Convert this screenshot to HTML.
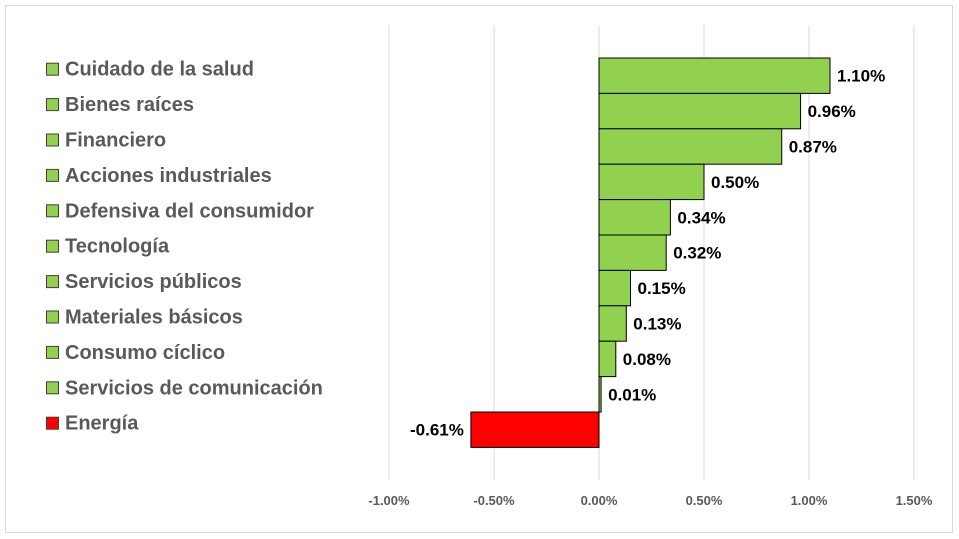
<!DOCTYPE html>
<html><head><meta charset="utf-8"><style>
body{margin:0;background:#fff;font-family:"Liberation Sans",sans-serif}
svg{display:block}
</style></head><body>
<svg width="959" height="539">
<rect x="5.5" y="5.5" width="947" height="527" fill="#fff" stroke="#d9d9d9"/>
<g id="grid"></g><g id="bars"></g><g id="labels"></g><g id="legend"></g><g id="ticks"></g>
</svg>
<script>
const categories=["Cuidado de la salud","Bienes raíces","Financiero","Acciones industriales","Defensiva del consumidor","Tecnología","Servicios públicos","Materiales básicos","Consumo cíclico","Servicios de comunicación","Energía"];
const values=[1.10,0.96,0.87,0.50,0.34,0.32,0.15,0.13,0.08,0.01,-0.61];
const tickValues=[-1.0,-0.5,0,0.5,1.0,1.5];
const tickLabels=["-1.00%","-0.50%","0.00%","0.50%","1.00%","1.50%"];
const NS="http://www.w3.org/2000/svg";
const x=v=>599+v*210;
const bandTop=i=>58+i*35.4;
const bandH=35.4;
function mk(tag,attrs,parent){const e=document.createElementNS(NS,tag);for(const k in attrs)e.setAttribute(k,attrs[k]);document.getElementById(parent).appendChild(e);return e;}
tickValues.forEach((t,i)=>{
 const l=mk('line',{x1:x(t),x2:x(t),y1:25,y2:480,stroke:'#d9d9d9','stroke-width':1},'grid');
 
 
 const tx=mk('text',{x:x(t),y:505,'text-anchor':'middle','font-size':13,'font-weight':'bold',fill:'#595959'},'ticks');
 tx.textContent=tickLabels[i];
 
 
});
values.forEach((v,i)=>{
 const col=v<0?'#ff0000':'#92d050';
 const r=mk('rect',{x:Math.min(x(0),x(v)),y:bandTop(i),width:Math.abs(x(v)-x(0)),height:bandH,fill:col,stroke:'#000','stroke-width':1},'bars');
 
 
 const t=mk('text',{x:v<0?x(v)-7:x(v)+7,y:bandTop(i)+bandH/2+6,'text-anchor':v<0?'end':'start','font-size':17,'font-weight':'bold',fill:'#000'},'labels');
 t.textContent=v.toFixed(2)+'%';
 
 
 const sq=mk('rect',{x:46.5,y:bandTop(i)+bandH/2-18.5+6,width:12,height:12,fill:col,stroke:'#404040','stroke-width':1},'legend');
 
 
 const lt=mk('text',{x:65,y:bandTop(i)+bandH/2-18+6+12,'font-size':20,'font-weight':'bold',fill:'#595959'},'legend');
 lt.textContent=categories[i];
 
 
});
</script>
</body></html>
